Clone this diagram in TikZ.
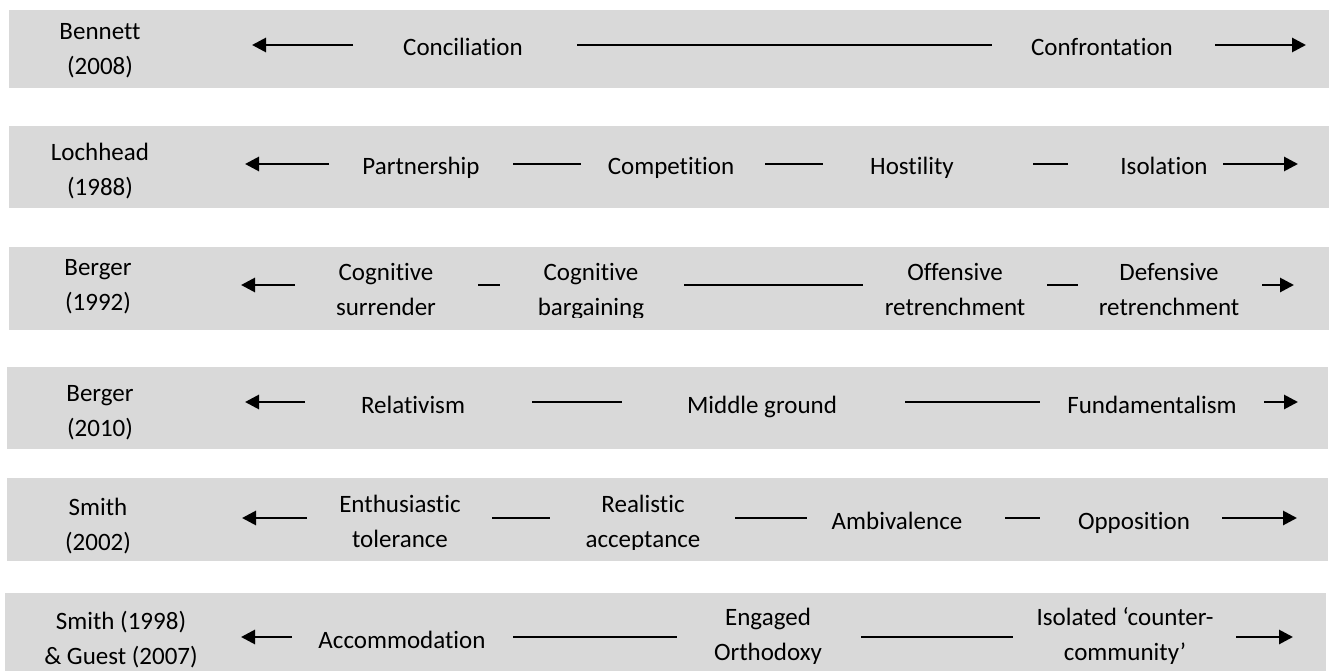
\documentclass[tikz,border=0pt]{standalone}
\usepackage{fontspec}
\setmainfont{Carlito}[Ligatures={NoCommon}]
\usetikzlibrary{arrows.meta}
\definecolor{bandgrey}{HTML}{D9D9D9}

\tikzset{
    band/.style={fill=bandgrey,draw=none},
    lbl/.style={inner sep=0pt,anchor=base,align=center,font=\fontsize{25}{35}\selectfont},
    conn/.style={line width=2.8pt},
    tip/.style={conn,-{Triangle[length=14pt,width=14pt]}}
}

\begin{document}
\begin{tikzpicture}[x=1pt,y=-1pt]%Escalas de relación
        \useasboundingbox (0,0) rectangle (1336,671);

        \fill[band] (9,10) rectangle (1329,88);
        \fill[band] (9,126) rectangle (1329,208);
        \fill[band] (9,247) rectangle (1329,330);
        \fill[band] (7,367) rectangle (1328,449);
        \fill[band] (7,478) rectangle (1328,561);
        \fill[band] (5,593) rectangle (1326,671);

        % Bennett
        \node[lbl] (ben) at (100,75) {Bennett\\(2008)};
        \node[lbl] (conc) at (463,56) {Conciliation};
        \node[lbl] (conf) at (1102,56) {Confrontation};
        \coordinate (A1) at (353,45);
        \coordinate (B1) at (252,45);
        \coordinate (C1) at (577,45);
        \coordinate (D1) at (992,45);
        \coordinate (E1) at (1215,45);
        \coordinate (F1) at (1306,45);
        \draw[tip] (A1) -- (B1);
        \draw[conn] (C1) -- (D1);
        \draw[tip] (E1) -- (F1);

        % Lochhead
        \node[lbl] (loch) at (100,196) {Lochhead\\(1988)};
        \node[lbl] (part) at (421,175) {Partnership};
        \node[lbl] (comp) at (671,175) {Competition};
        \node[lbl] (host) at (912,175) {Hostility};
        \node[lbl] (isol) at (1164,175) {Isolation};
        \coordinate (A2) at (329,164);
        \coordinate (B2) at (245,164);
        \coordinate (C2) at (513,164);
        \coordinate (D2) at (581,164);
        \coordinate (E2) at (765,164);
        \coordinate (F2) at (823,164);
        \coordinate (G2) at (1033,164);
        \coordinate (H2) at (1068,164);
        \coordinate (I2) at (1223,164);
        \coordinate (J2) at (1298,164);
        \draw[tip] (A2) -- (B2);
        \draw[conn] (C2) -- (D2);
        \draw[conn] (E2) -- (F2);
        \draw[conn] (G2) -- (H2);
        \draw[tip] (I2) -- (J2);

        % Berger 1992
        \node[lbl] (berga) at (98,310) {Berger\\(1992)};
        \begin{scope}
            \clip (320,240) rectangle (1250,317);
            \node[lbl] (cogs) at (386,315) {Cognitive\\surrender};
            \node[lbl] (cogb) at (591,315) {Cognitive\\bargaining};
            \node[lbl] (offr) at (955,315) {Offensive\\retrenchment};
            \node[lbl] (defr) at (1169,315) {Defensive\\retrenchment};
        \end{scope}
        \coordinate (A3) at (295,285);
        \coordinate (B3) at (241,285);
        \coordinate (C3) at (478,285);
        \coordinate (D3) at (500,285);
        \coordinate (E3) at (684,285);
        \coordinate (F3) at (863,285);
        \coordinate (G3) at (1047,285);
        \coordinate (H3) at (1078,285);
        \coordinate (I3) at (1262,285);
        \coordinate (J3) at (1294,285);
        \draw[tip] (A3) -- (B3);
        \draw[conn] (C3) -- (D3);
        \draw[conn] (E3) -- (F3);
        \draw[conn] (G3) -- (H3);
        \draw[tip] (I3) -- (J3);

        % Berger 2010
        \node[lbl] (bergb) at (100,436) {Berger\\(2010)};
        \node[lbl] (relat) at (413,413) {Relativism};
        \node[lbl] (midg) at (762,413) {Middle ground};
        \node[lbl] (fund) at (1152,413) {Fundamentalism};
        \coordinate (A4) at (305,402);
        \coordinate (B4) at (245,402);
        \coordinate (C4) at (532,402);
        \coordinate (D4) at (622,402);
        \coordinate (E4) at (905,402);
        \coordinate (F4) at (1040,402);
        \coordinate (G4) at (1264,402);
        \coordinate (H4) at (1298,402);
        \draw[tip] (A4) -- (B4);
        \draw[conn] (C4) -- (D4);
        \draw[conn] (E4) -- (F4);
        \draw[tip] (G4) -- (H4);

        % Smith 2002
        \node[lbl] (smitha) at (98,550) {Smith\\(2002)};
        \begin{scope}
            \clip (320,470) rectangle (1250,549);
            \node[lbl] (enth) at (400,547) {Enthusiastic\\tolerance};
            \node[lbl] (real) at (643,547) {Realistic\\acceptance};
        \end{scope}
        \node[lbl] (ambi) at (897,529) {Ambivalence};
        \node[lbl] (oppo) at (1134,529) {Opposition};
        \coordinate (A5) at (307,518);
        \coordinate (B5) at (242,518);
        \coordinate (C5) at (492,518);
        \coordinate (D5) at (550,518);
        \coordinate (E5) at (735,518);
        \coordinate (F5) at (807,518);
        \coordinate (G5) at (1005,518);
        \coordinate (H5) at (1040,518);
        \coordinate (I5) at (1222,518);
        \coordinate (J5) at (1297,518);
        \draw[tip] (A5) -- (B5);
        \draw[conn] (C5) -- (D5);
        \draw[conn] (E5) -- (F5);
        \draw[conn] (G5) -- (H5);
        \draw[tip] (I5) -- (J5);

        % Smith 1998 y Guest 2007
        \node[lbl] (smithb) at (121,664) {Smith (1998)\\\& Guest (2007)};
        \node[lbl] (acco) at (402,648) {Accommodation};
        \begin{scope}
            \clip (320,585) rectangle (1250,663);
            \node[lbl] (enga) at (768,660) {Engaged\\Orthodoxy};
            \node[lbl] (isoc) at (1125,660) {Isolated ‘counter-\\community’};
        \end{scope}
        \coordinate (A6) at (292,637);
        \coordinate (B6) at (241,637);
        \coordinate (C6) at (513,637);
        \coordinate (D6) at (677,637);
        \coordinate (E6) at (861,637);
        \coordinate (F6) at (1013,637);
        \coordinate (G6) at (1236,637);
        \coordinate (H6) at (1293,637);
        \draw[tip] (A6) -- (B6);
        \draw[conn] (C6) -- (D6);
        \draw[conn] (E6) -- (F6);
        \draw[tip] (G6) -- (H6);
    \end{tikzpicture}
\end{document}
